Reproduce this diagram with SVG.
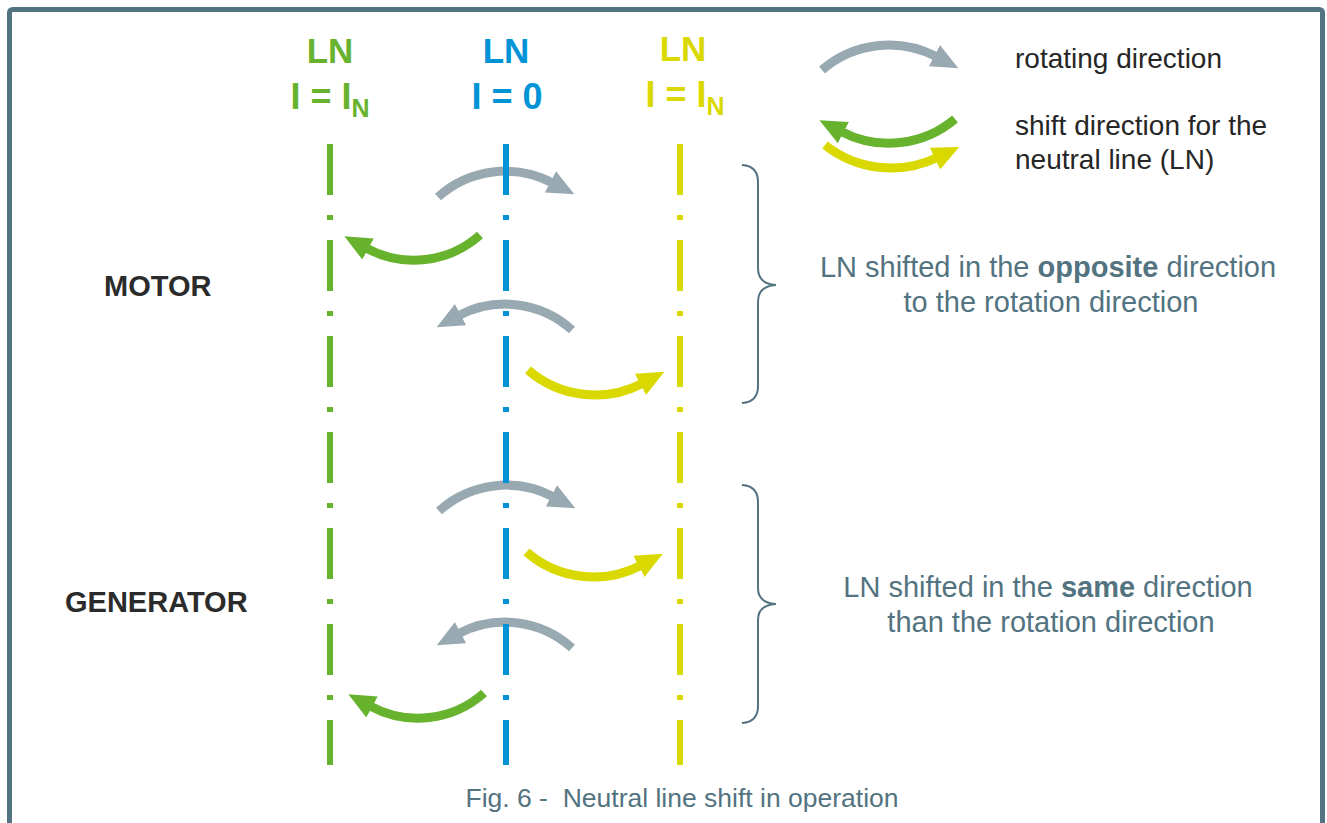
<svg xmlns="http://www.w3.org/2000/svg" width="1327" height="823" viewBox="0 0 1327 823">
<style>
  .t { font-family: "Liberation Sans", Arial, sans-serif; }
  .b { font-weight: bold; }
  .lbl { font-family: "Liberation Sans", Arial, sans-serif; font-weight: bold; fill: #2b2b2b; font-size: 29px; }
  .leg { font-family: "Liberation Sans", Arial, sans-serif; fill: #262626; font-size: 28px; }
  .note { font-family: "Liberation Sans", Arial, sans-serif; fill: #52737f; font-size: 29px; text-anchor: middle; }
  .ln { fill: none; stroke-width: 6; stroke-dasharray: 51 20 5 20; }
  .arc { fill: none; stroke-width: 9; }
  .gray { stroke: #98a9b1; }
  .green { stroke: #67b32e; }
  .yellow { stroke: #d9d900; }
  .brace { fill: none; stroke: #52737f; stroke-width: 2; }
</style>
<defs>
  <marker id="hg" markerUnits="userSpaceOnUse" markerWidth="27" markerHeight="26" viewBox="0 0 27 26" refX="2" refY="13" orient="auto">
    <path d="M0,1 L27,13 L0,25 Z" fill="#98a9b1"/>
  </marker>
  <marker id="hgr" markerUnits="userSpaceOnUse" markerWidth="27" markerHeight="26" viewBox="0 0 27 26" refX="2" refY="13" orient="auto">
    <path d="M0,1 L27,13 L0,25 Z" fill="#67b32e"/>
  </marker>
  <marker id="hy" markerUnits="userSpaceOnUse" markerWidth="27" markerHeight="26" viewBox="0 0 27 26" refX="2" refY="13" orient="auto">
    <path d="M0,1 L27,13 L0,25 Z" fill="#d9d900"/>
  </marker>
</defs>
<rect x="0" y="0" width="1327" height="823" fill="#ffffff"/>
<rect id="frame" x="9.5" y="9.5" width="1313" height="900" rx="3" fill="none" stroke="#527482" stroke-width="5"/>

<g id="headers">
  <g id="hdr-green" fill="#67b32e" class="t b">
    <text x="330" y="63" font-size="35" text-anchor="middle">LN</text>
    <text x="330" y="109" font-size="36" text-anchor="middle">I = I<tspan dy="8" font-size="25">N</tspan></text>
  </g>
  <g id="hdr-blue" fill="#0093d6" class="t b">
    <text x="506" y="63" font-size="35" text-anchor="middle">LN</text>
    <text x="507" y="109" font-size="36" text-anchor="middle">I = 0</text>
  </g>
  <g id="hdr-yellow" fill="#d9d900" class="t b">
    <text x="683" y="61" font-size="35" text-anchor="middle">LN</text>
    <text x="685" y="107" font-size="36" text-anchor="middle">I = I<tspan dy="8" font-size="25">N</tspan></text>
  </g>
</g>

<g id="legend">
  <path class="arc gray" d="M822,70 A102.3,102.3 0 0 1 936.2,56.6" marker-end="url(#hg)"/>
  <path class="arc green" d="M955,119 A102.5,102.5 0 0 1 841.6,131.7" marker-end="url(#hgr)"/>
  <path class="arc yellow" d="M825,145 A106.2,106.2 0 0 0 936.7,157.7" marker-end="url(#hy)"/>
  <text class="leg" x="1015" y="68">rotating direction</text>
  <text class="leg" x="1015" y="135">shift direction for the</text>
  <text class="leg" x="1015" y="169">neutral line (LN)</text>
</g>

<g id="connectors">
  <path id="m-rot1" class="arc gray" d="M438,197 A100.8,100.8 0 0 1 552.2,182.7" marker-end="url(#hg)"/>
  <path id="m-shift1" class="arc green" d="M480,235 A99.5,99.5 0 0 1 366.3,248.1" marker-end="url(#hgr)"/>
  <path id="m-rot2" class="arc gray" d="M572,330 A99.5,99.5 0 0 0 458.8,315.6" marker-end="url(#hg)"/>
  <path id="m-shift2" class="arc yellow" d="M528,370 A102.3,102.3 0 0 0 642.2,383.4" marker-end="url(#hy)"/>
  <path id="g-rot1" class="arc gray" transform="translate(1,314)" d="M438,197 A100.8,100.8 0 0 1 552.2,182.7" marker-end="url(#hg)"/>
  <path id="g-shift1" class="arc yellow" transform="translate(-1.5,182)" d="M528,370 A102.3,102.3 0 0 0 642.2,383.4" marker-end="url(#hy)"/>
  <path id="g-rot2" class="arc gray" transform="translate(0,318)" d="M572,330 A99.5,99.5 0 0 0 458.8,315.6" marker-end="url(#hg)"/>
  <path id="g-shift2" class="arc green" transform="translate(4,458)" d="M480,235 A99.5,99.5 0 0 1 366.3,248.1" marker-end="url(#hgr)"/>
</g>

<g id="neutral-lines">
  <line id="ln-green" class="ln" x1="330" y1="144" x2="330" y2="765" stroke="#67b32e"/>
  <line id="ln-blue" class="ln" x1="506" y1="144" x2="506" y2="765" stroke="#0093d6"/>
  <line id="ln-yellow" class="ln" x1="680" y1="144" x2="680" y2="765" stroke="#d9d900"/>
</g>

<g id="motor">
  <text class="lbl" x="104" y="296">MOTOR</text>
  <path class="brace" d="M742,165 Q758,166 758,182 L758,268 Q758,284 776,285 Q758,286 758,302 L758,386 Q758,402 742,403"/>
  <text class="note" x="1048" y="277">LN shifted in the <tspan class="b">opposite</tspan> direction</text>
  <text class="note" x="1051" y="312">to the rotation direction</text>
</g>

<g id="generator">
  <text class="lbl" x="65" y="612">GENERATOR</text>
  <path class="brace" d="M742,485 Q758,486 758,502 L758,588 Q758,603 776,604 Q758,605 758,620 L758,706 Q758,722 742,723"/>
  <text class="note" x="1048" y="597">LN shifted in the <tspan class="b">same</tspan> direction</text>
  <text class="note" x="1051" y="632">than the rotation direction</text>
</g>

<text id="caption" class="t" x="682" y="807" font-size="26.5" fill="#52737f" text-anchor="middle" xml:space="preserve">Fig. 6 -  Neutral line shift in operation</text>
</svg>
